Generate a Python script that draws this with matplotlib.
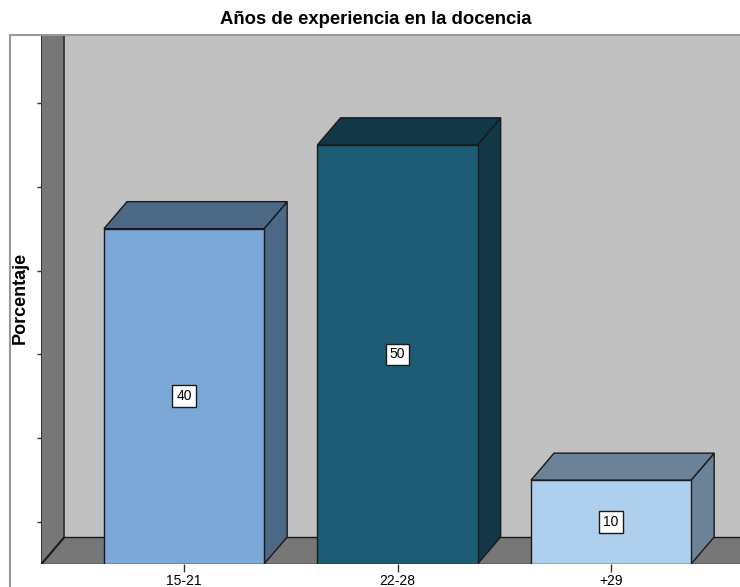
import matplotlib
matplotlib.use("Agg")
import matplotlib.pyplot as plt
from matplotlib.patches import Polygon, Rectangle
from matplotlib.lines import Line2D

plt.rcParams["font.family"] = ["Liberation Sans", "DejaVu Sans"]

# data
categories = ["15-21", "22-28", "+29"]
values = [40, 50, 10]
front_colors = ["#7BA8D6", "#1C5C74", "#AECFED"]
shade_colors = ["#4B6884", "#123847", "#6B8298"]
title = "Años de experiencia en la docencia"
ylabel = "Porcentaje"
ytick_pos = [5, 15, 25, 35, 45, 55]

# 3d look settings
bar_w = 0.75
dx = 0.108   # depth offset in x units
dy = 3.22    # depth offset in y units
xl, xr = -0.67, 2.604
ytop = 63.1
wall_col = "#777777"
back_col = "#C0C0C0"
edge = "#1a1a1a"

fig = plt.figure(figsize=(7.4, 5.87), dpi=100)
ax = fig.add_axes([41 / 740, 23 / 587, 699 / 740, 529 / 587])
ax.set_xlim(xl, xr)
ax.set_ylim(0, ytop)

# back wall, left wall and floor
ax.add_patch(Rectangle((xl + dx, dy), xr - xl - dx, ytop - dy, facecolor=back_col,
                       edgecolor="none", zorder=1))
ax.add_patch(Polygon([(xl, 0), (xl + dx, dy), (xl + dx, ytop + 5), (xl, ytop + 5)],
                     closed=True, facecolor=wall_col, edgecolor=edge, lw=1, zorder=2))
ax.add_patch(Polygon([(xl, 0), (xr + 1, 0), (xr + 1, dy), (xl + dx, dy)],
                     closed=True, facecolor=wall_col, edgecolor=edge, lw=1, zorder=2))

# bars
for i, v in enumerate(values):
    x0 = i - bar_w / 2
    x1 = i + bar_w / 2
    ax.add_patch(Polygon([(x1, 0), (x1 + dx, dy), (x1 + dx, v + dy), (x1, v)],
                         closed=True, facecolor=shade_colors[i], edgecolor=edge, lw=1, zorder=3))
    ax.add_patch(Polygon([(x0, v), (x1, v), (x1 + dx, v + dy), (x0 + dx, v + dy)],
                         closed=True, facecolor=shade_colors[i], edgecolor=edge, lw=1, zorder=3))
    ax.add_patch(Rectangle((x0, 0), bar_w, v, facecolor=front_colors[i],
                           edgecolor=edge, lw=1, zorder=4))
    ax.text(i, v / 2, str(v), ha="center", va="center", fontsize=10, zorder=5,
            bbox=dict(boxstyle="square,pad=0.28", facecolor="white", edgecolor=edge, lw=1))

ax.set_xticks(range(len(categories)))
ax.set_xticklabels(categories, fontsize=10)
ax.set_yticks(ytick_pos)
ax.set_yticklabels([])
ax.tick_params(axis="x", direction="out", length=6, width=1, color="#333333", pad=1)
ax.tick_params(axis="y", direction="out", length=3, width=1, color="#333333")
for s in ax.spines.values():
    s.set_visible(False)

fig.text(376 / 740, 1 - 19 / 587, title, ha="center", va="center",
         fontsize=13.3, fontweight="bold")
fig.text(20 / 740, 1 - 298 / 587, ylabel, ha="center", va="center",
         rotation=90, fontsize=13, fontweight="bold")

# outer frame
fig.add_artist(Line2D([10 / 740, 1], [1 - 35 / 587, 1 - 35 / 587], color="#999999", lw=1.5))
fig.add_artist(Line2D([10 / 740, 10 / 740], [0, 1 - 35 / 587], color="#999999", lw=1.5))

plt.savefig("out.png", dpi=100)
